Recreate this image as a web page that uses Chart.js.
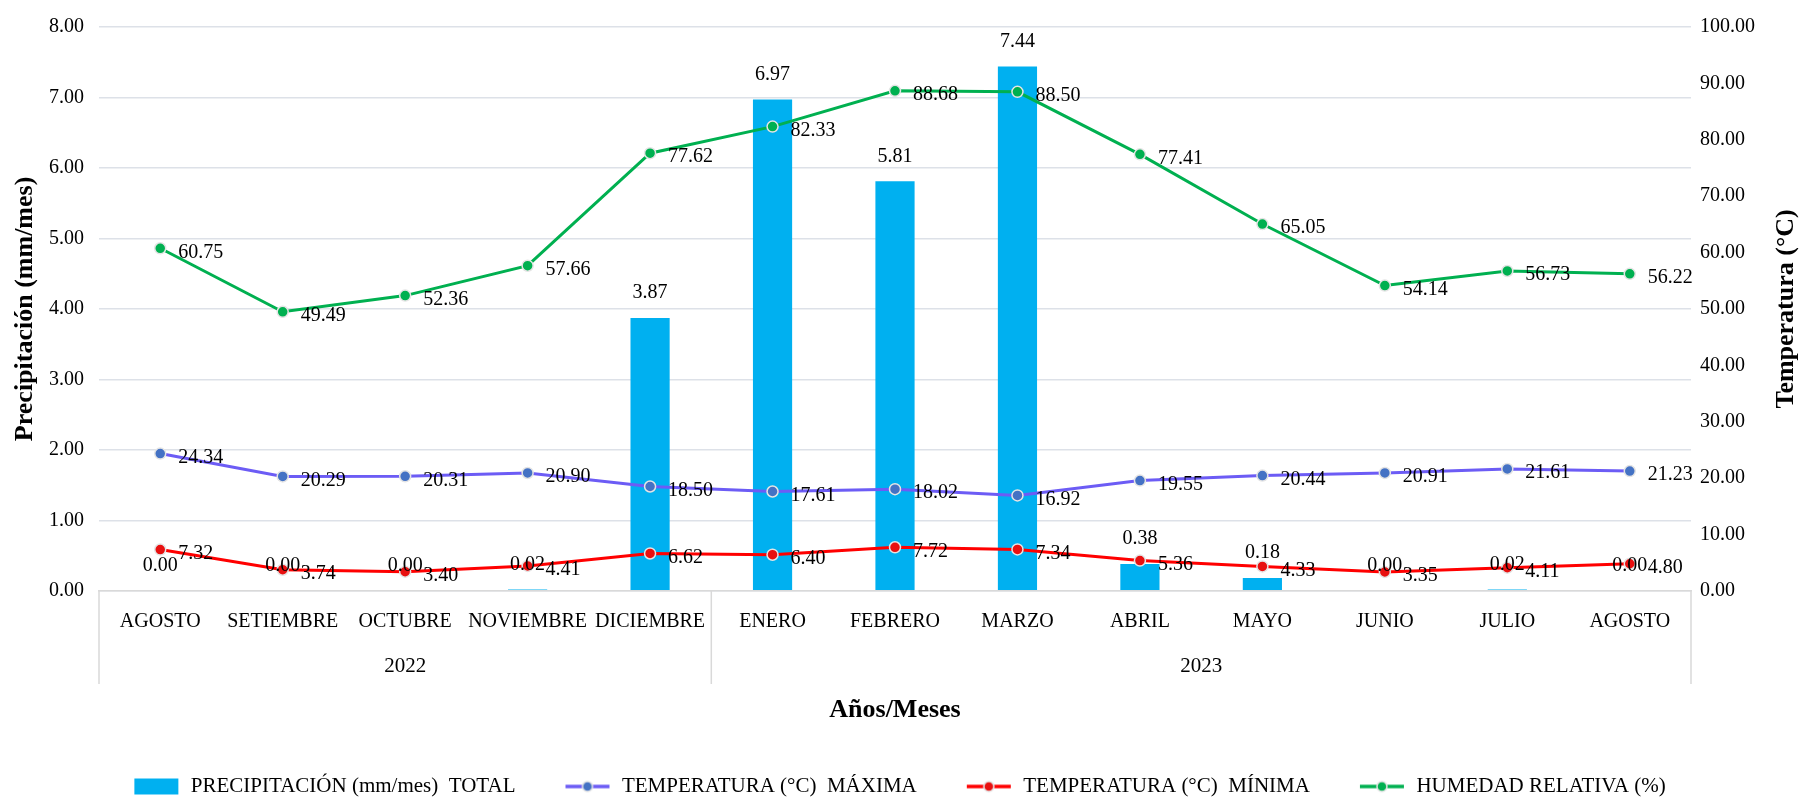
<!DOCTYPE html>
<html>
<head>
<meta charset="utf-8">
<script src="https://cdn.jsdelivr.net/npm/chart.js@4.4.1/dist/chart.umd.min.js"></script>
<style>
  html, body { margin: 0; padding: 0; background: #fff; }
  #wrap { width: 1800px; height: 798px; }
</style>
</head>
<body>
<div id="wrap"><canvas id="climaChart" width="1800" height="798"></canvas></div>
<script>
// datos
const meses = ['AGOSTO', 'SETIEMBRE', 'OCTUBRE', 'NOVIEMBRE', 'DICIEMBRE', 'ENERO', 'FEBRERO',
               'MARZO', 'ABRIL', 'MAYO', 'JUNIO', 'JULIO', 'AGOSTO'];
const anios = ['2022', '2023'];
const mesesPorAnio = [5, 8];

const precipitacion = [0.00, 0.00, 0.00, 0.02, 3.87, 6.97, 5.81, 7.44, 0.38, 0.18, 0.00, 0.02, 0.00];
const tempMax = [24.34, 20.29, 20.31, 20.90, 18.50, 17.61, 18.02, 16.92, 19.55, 20.44, 20.91, 21.61, 21.23];
const tempMin = [7.32, 3.74, 3.40, 4.41, 6.62, 6.40, 7.72, 7.34, 5.36, 4.33, 3.35, 4.11, 4.80];
const humedad = [60.75, 49.49, 52.36, 57.66, 77.62, 82.33, 88.68, 88.50, 77.41, 65.05, 54.14, 56.73, 56.22];

const FUENTE = '"Liberation Serif", "Times New Roman", serif';
Chart.defaults.font.family = FUENTE;
Chart.defaults.color = '#000';

// marcadores de la leyenda (linea con punto, o caja para la barra)
function marcador(tipo, linea, punto) {
    const c = document.createElement('canvas');
    c.width = 48; c.height = 18;
    const g = c.getContext('2d');
    if (tipo === 'barra') {
        g.fillStyle = linea;
        g.fillRect(2, 1, 44, 16);
    } else {
        g.strokeStyle = linea; g.lineWidth = 3.5;
        g.beginPath(); g.moveTo(2, 9); g.lineTo(46, 9); g.stroke();
        g.fillStyle = punto; g.strokeStyle = '#e4e4e4'; g.lineWidth = 1.5;
        g.beginPath(); g.arc(24, 9, 5, 0, Math.PI * 2); g.fill(); g.stroke();
    }
    return c;
}

const marcadores = [
    marcador('barra', '#00B0F0'),
    marcador('linea', '#6C5CF5', '#4472C4'),
    marcador('linea', '#FF0000', '#E81010'),
    marcador('linea', '#00B050', '#00B050')
];

// etiquetas de valores
const etiquetas = {
    id: 'etiquetas',
    afterDatasetsDraw(chart) {
        const ctx = chart.ctx;
        ctx.save();
        ctx.font = '20px ' + FUENTE;
        ctx.fillStyle = '#000';
        ctx.textBaseline = 'middle';
        chart.data.datasets.forEach((ds, i) => {
            const meta = chart.getDatasetMeta(i);
            meta.data.forEach((el, j) => {
                const txt = ds.data[j].toFixed(2);
                if (meta.type === 'bar') {
                    ctx.textAlign = 'center';
                    ctx.fillText(txt, el.x, el.y - 25);
                } else {
                    ctx.textAlign = 'left';
                    ctx.fillText(txt, el.x + 18, el.y + 4);
                }
            });
        });
        ctx.restore();
    }
};

function tituloVertical(ctx, texto, x, y) {
    ctx.save();
    ctx.translate(x, y);
    ctx.rotate(-Math.PI / 2);
    ctx.font = 'bold 26px ' + FUENTE;
    ctx.fillStyle = '#000';
    ctx.textAlign = 'center';
    ctx.textBaseline = 'middle';
    ctx.fillText(texto, 0, 0);
    ctx.restore();
}

// segundo nivel del eje x (años) y titulos de los ejes verticales
const ejeAnios = {
    id: 'ejeAnios',
    afterDraw(chart) {
        const ctx = chart.ctx;
        const x = chart.scales.x;
        const abajo = 684;
        const cortes = [x.left];
        let acc = 0;
        mesesPorAnio.forEach(n => {
            acc += n;
            if (acc < meses.length) {
                cortes.push((x.getPixelForValue(acc - 1) + x.getPixelForValue(acc)) / 2);
            } else {
                cortes.push(x.right);
            }
        });
        ctx.save();
        ctx.strokeStyle = '#d9d9d9';
        ctx.lineWidth = 1.5;
        cortes.forEach(cx => {
            ctx.beginPath(); ctx.moveTo(cx, x.top); ctx.lineTo(cx, abajo); ctx.stroke();
        });
        ctx.font = '21px ' + FUENTE;
        ctx.fillStyle = '#000';
        ctx.textAlign = 'center';
        ctx.textBaseline = 'middle';
        anios.forEach((a, k) => {
            ctx.fillText(a, (cortes[k] + cortes[k + 1]) / 2, 666);
        });
        ctx.restore();

        const area = chart.chartArea;
        const medio = (area.top + area.bottom) / 2;
        tituloVertical(ctx, 'Precipitación (mm/mes)', 25, medio);
        tituloVertical(ctx, 'Temperatura (°C)', 1786, medio);
    }
};

new Chart(document.getElementById('climaChart'), {
    data: {
        labels: meses,
        datasets: [
            {
                type: 'bar',
                label: 'PRECIPITACIÓN (mm/mes)  TOTAL',
                data: precipitacion,
                yAxisID: 'y',
                backgroundColor: '#00B0F0',
                barPercentage: 0.32,
                categoryPercentage: 1,
                order: 2
            },
            {
                type: 'line',
                label: 'TEMPERATURA (°C)  MÁXIMA',
                data: tempMax,
                yAxisID: 'y1',
                borderColor: '#6C5CF5',
                borderWidth: 3,
                pointBackgroundColor: '#4472C4',
                pointBorderColor: '#e4e4e4',
                pointBorderWidth: 1.5,
                pointRadius: 5.5,
                tension: 0,
                order: 1
            },
            {
                type: 'line',
                label: 'TEMPERATURA (°C)  MÍNIMA',
                data: tempMin,
                yAxisID: 'y1',
                borderColor: '#FF0000',
                borderWidth: 3,
                pointBackgroundColor: '#E81010',
                pointBorderColor: '#e4e4e4',
                pointBorderWidth: 1.5,
                pointRadius: 5.5,
                tension: 0,
                order: 1
            },
            {
                type: 'line',
                label: 'HUMEDAD RELATIVA (%)',
                data: humedad,
                yAxisID: 'y1',
                borderColor: '#00B050',
                borderWidth: 3,
                pointBackgroundColor: '#00B050',
                pointBorderColor: '#e4e4e4',
                pointBorderWidth: 1.5,
                pointRadius: 5.5,
                tension: 0,
                order: 1
            }
        ]
    },
    options: {
        responsive: false,
        animation: false,
        layout: { padding: { top: 26, left: 34, right: 36, bottom: -9 } },
        scales: {
            x: {
                grid: { display: false, drawTicks: false },
                border: { display: true, color: '#d9d9d9', width: 1.5 },
                ticks: { autoSkip: false, maxRotation: 0, padding: 19, color: '#000', font: { size: 20 } },
                title: {
                    display: true,
                    text: 'Años/Meses',
                    color: '#000',
                    font: { size: 26, weight: 'bold' },
                    padding: { top: 42, bottom: 2 }
                }
            },
            y: {
                position: 'left',
                min: 0,
                max: 8,
                grid: { color: '#dde1e8', lineWidth: 1.5, drawTicks: false },
                border: { display: false },
                ticks: { stepSize: 1, padding: 15, color: '#000', font: { size: 20 },
                         callback: v => v.toFixed(2) }
            },
            y1: {
                position: 'right',
                min: 0,
                max: 100,
                grid: { display: false, drawTicks: false },
                border: { display: false },
                ticks: { stepSize: 10, padding: 9, color: '#000', font: { size: 20 },
                         callback: v => v.toFixed(2) }
            }
        },
        plugins: {
            tooltip: { enabled: false },
            legend: {
                position: 'bottom',
                labels: {
                    usePointStyle: true,
                    pointStyleWidth: 48,
                    padding: 48,
                    color: '#000',
                    font: { size: 21 },
                    generateLabels: chart => chart.data.datasets.map((ds, i) => ({
                        text: ds.label,
                        pointStyle: marcadores[i],
                        datasetIndex: i,
                        hidden: false,
                        lineWidth: 0,
                        fillStyle: 'transparent',
                        strokeStyle: 'transparent'
                    }))
                }
            }
        }
    },
    plugins: [etiquetas, ejeAnios]
});
</script>
</body>
</html>
